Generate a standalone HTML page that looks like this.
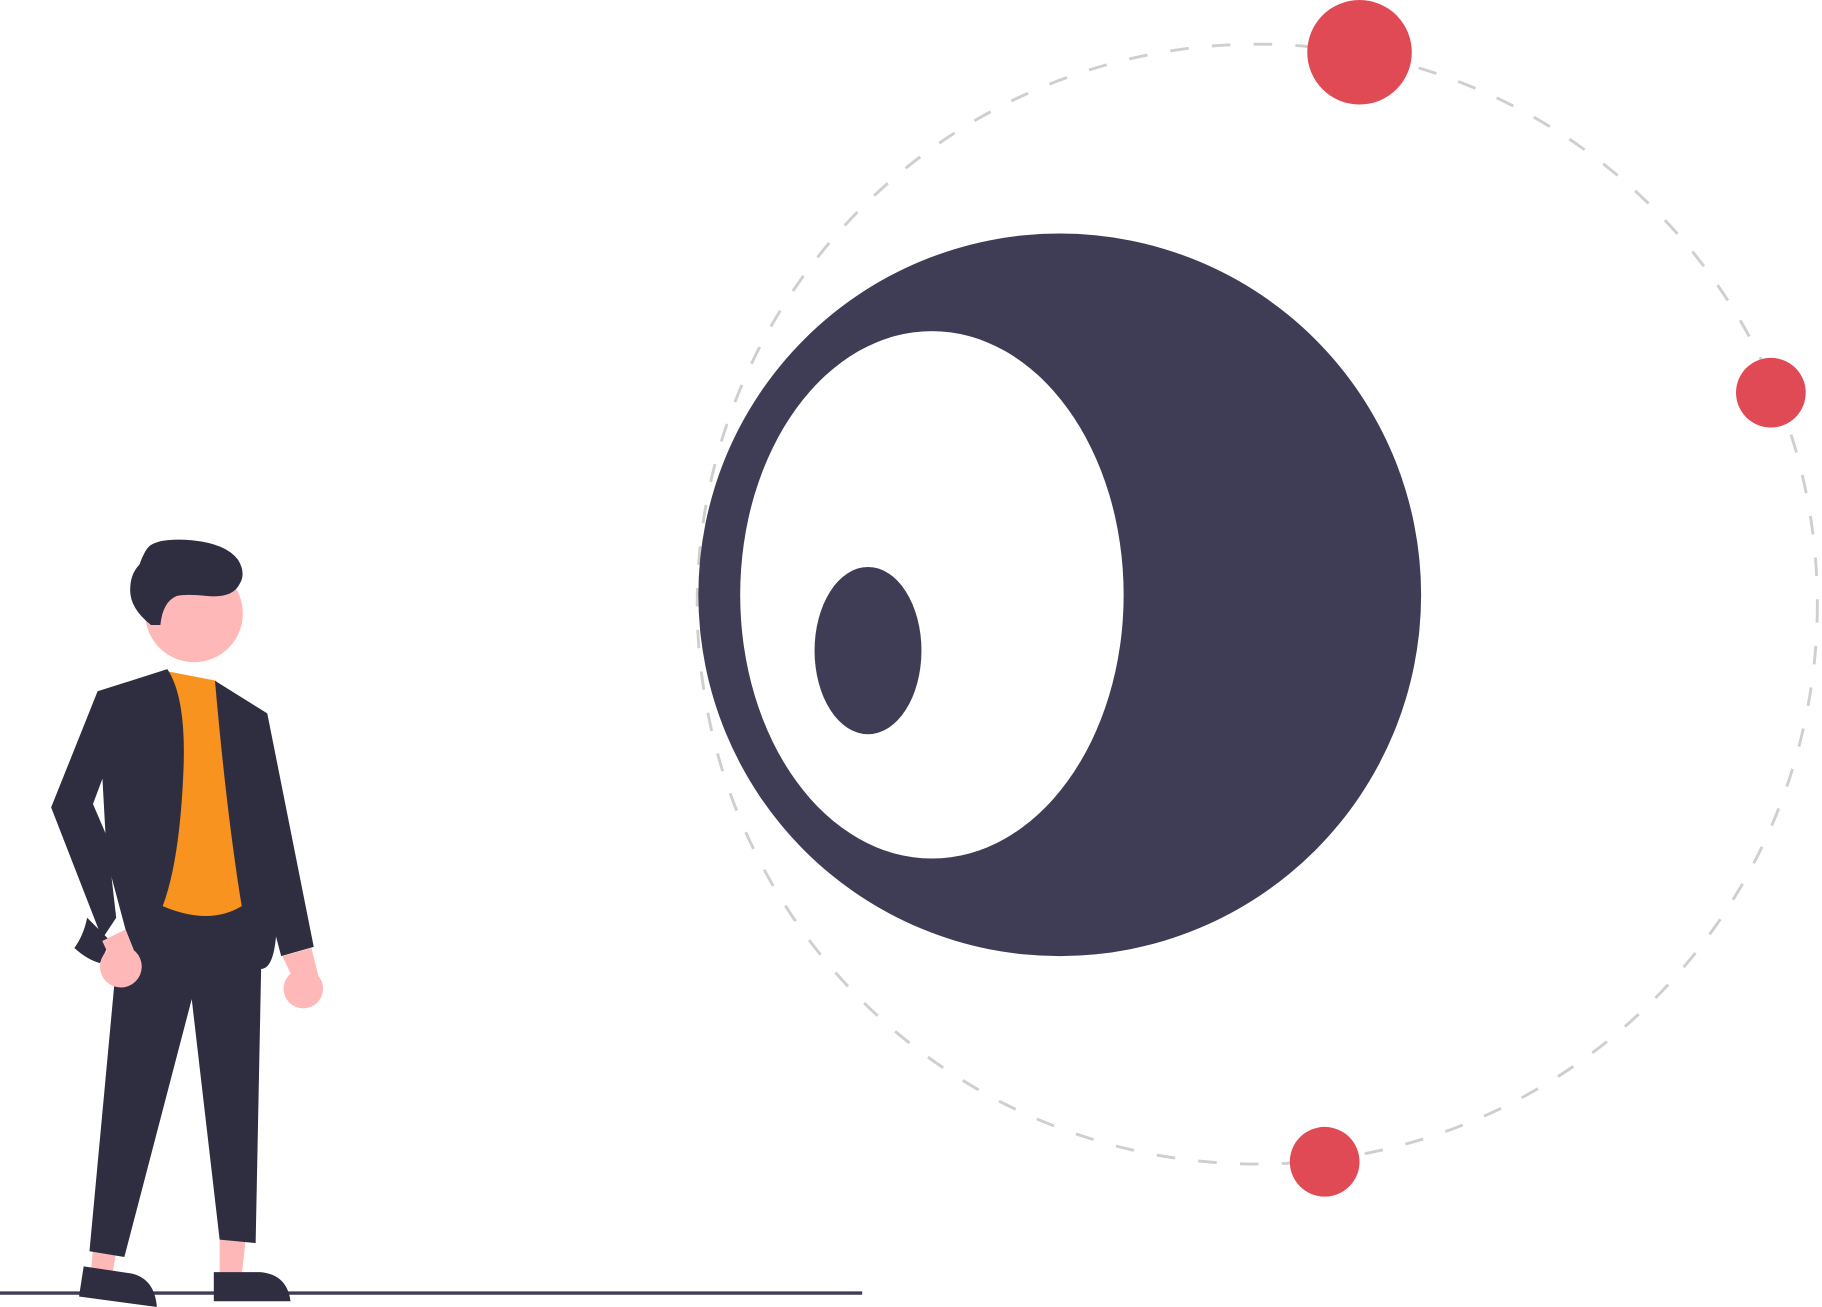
<!DOCTYPE html>
<html><head><meta charset="utf-8"><style>html,body{margin:0;padding:0;background:#fff}svg{display:block}</style></head>
<body>
<svg width="1822" height="1307" viewBox="0 0 1568 1125" preserveAspectRatio="none" xmlns="http://www.w3.org/2000/svg">
<circle cx="1082" cy="520" r="482" fill="none" stroke="#cfcfcf" stroke-width="2.5" stroke-dasharray="16 20"/>
<circle cx="912" cy="512" r="311" fill="#3f3d56"/>
<ellipse cx="802" cy="512" rx="165" ry="227" fill="#fff"/>
<ellipse cx="747" cy="560" rx="46" ry="72" fill="#3f3d56"/>
<circle cx="1170" cy="45" r="45" fill="#e04a54"/>
<circle cx="1524" cy="338" r="30" fill="#e04a54"/>
<circle cx="1140" cy="1000" r="30" fill="#e04a54"/>
<line x1="0" y1="1113" x2="742" y2="1113" stroke="#3f3d56" stroke-width="3"/>
<!-- person -->
<g>
<polygon points="80,1075 100,1078 96,1100 78,1098" fill="#ffb8b8"/>
<polygon points="189,1060 212,1062 208,1098 189,1098" fill="#ffb8b8"/>
<polygon points="100,830 225,820 220,1070 189,1067 165,860 107,1082 77,1077" fill="#2f2e41"/>
<path d="M72,1090 L112,1096 Q133,1100 135,1125 L68,1116 Z" fill="#2f2e41"/>
<path d="M184,1095 L224,1095 Q247,1097 250,1120 L184,1120 Z" fill="#2f2e41"/>
<circle cx="167" cy="528" r="42" fill="#ffb8b8"/>
<path d="M130,538 Q112,524 112,508 Q112,494 120,486 Q125,472 130,469 Q140,463 165,465 Q195,468 205,482 Q212,494 206,503 Q200,515 178,513 Q160,511 152,513 Q140,518 138,538 Z" fill="#2f2e41"/>
<polygon points="145,578 186,586 208,780 190,800 140,790 125,620" fill="#f7931e"/>
<path d="M84,595 L144,576 Q160,600 158,660 Q155,740 140,780 Q180,797 208,780 Q195,700 185,586 L230,614 L238,800 Q236,835 224,834 L220,828 Q180,846 120,830 L108,800 L92,740 Z" fill="#2f2e41"/>
<polygon points="84,595 100,600 92,660 80,692 92,720 100,790 88,808 44,695" fill="#2f2e41"/>
<path d="M75,790 Q72,805 64,816 Q75,826 86,829 L95,810 Z" fill="#2f2e41"/>
<polygon points="88,810 108,800 118,826 100,836" fill="#ffb8b8"/>
<circle cx="104" cy="832" r="18" fill="#ffb8b8"/>
<polygon points="230,614 270,815 242,823 220,740" fill="#2f2e41"/>
<polygon points="243,823 268,816 275,844 252,842" fill="#ffb8b8"/>
<circle cx="261" cy="851" r="17" fill="#ffb8b8"/>
</g>
</svg>
</body></html>
